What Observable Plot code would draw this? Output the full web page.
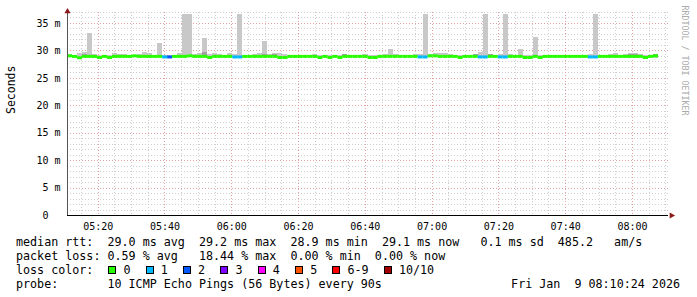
<!DOCTYPE html>
<html>
<head>
<meta charset="utf-8">
<script src="https://cdn.jsdelivr.net/npm/d3@7"></script>
<script src="https://cdn.jsdelivr.net/npm/@observablehq/plot@0.6"></script>
<style>
  html, body { margin: 0; padding: 0; background: #ffffff; }
  #wrap { position: relative; width: 697px; height: 297px; overflow: hidden; background: #fff; }
  #legend { position: absolute; left: 0; top: 233px; width: 697px;
    font-family: "DejaVu Sans Mono", monospace; font-size: 11.7px; line-height: 14px;
    color: #000; white-space: pre; padding-top: 1.5px; }
  .ln { padding-left: 16px; height: 14px; }
  .row { display: flex; align-items: center; }
  .box { display: inline-block; width: 6px; height: 6px; border: 1px solid #000; margin-right: 7px; }
  .item { display: inline-flex; align-items: center; margin-right: 15.3px; }
</style>
</head>
<body>
<div id="wrap">
  <div id="chart"></div>
  <div id="legend"></div>
</div>
<script>
// ---- data ----
const median = [
  29.1,29.0,28.75,29.0,29.0,29.0,28.8,29.0,28.8,29.0,
  29.0,29.0,29.0,29.1,29.0,29.0,29.0,29.0,29.0,28.9,
  28.9,29.0,29.0,29.0,29.1,29.0,29.0,29.0,28.8,29.0,
  29.0,29.0,29.0,28.9,28.9,29.0,29.0,29.0,29.0,29.0,
  29.0,29.0,28.8,28.8,29.0,29.0,29.0,29.0,29.0,29.0,
  28.8,29.0,28.8,29.0,28.8,29.0,29.0,29.0,29.0,29.0,
  28.8,28.8,29.0,29.0,29.0,29.0,29.0,29.0,29.0,29.0,
  28.9,28.9,29.1,29.1,29.0,29.0,29.0,29.0,28.8,29.0,
  29.0,29.0,28.9,28.9,29.0,29.0,28.9,28.9,29.0,29.0,
  29.0,28.8,28.8,29.0,28.8,29.0,29.0,29.0,29.0,29.0,
  29.0,29.0,29.0,29.0,28.9,28.9,29.0,29.0,29.0,29.0,
  29.0,29.0,29.0,29.0,29.0,28.8,29.0,29.1
];
const loss = [
  0,0,0,0,0,0,0,0,0,0, 0,0,0,0,0,0,0,0,0,1,
  2,0,0,0,0,0,0,0,0,0, 0,0,0,1,1,0,0,0,0,0,
  0,0,0,0,0,0,0,0,0,0, 0,0,0,0,0,0,0,0,0,0,
  0,0,0,0,0,0,0,0,0,0, 1,1,0,0,0,0,0,0,0,0,
  0,0,1,1,0,0,1,1,0,0, 0,0,0,0,0,0,0,0,0,0,
  0,0,0,0,1,1,0,0,0,0, 0,0,0,0,0,0,0,0
];
const hi = [
  29.3,29.2,29.6,29.8,33.2,29.3,29.2,29.2,29.2,29.5,
  29.3,29.3,29.2,29.2,29.3,29.8,29.5,29.2,31.3,29.2,
  29.2,29.2,29.6,36.6,36.6,29.3,29.5,32.2,29.3,29.6,
  29.3,29.2,29.5,29.4,36.6,29.2,29.2,29.4,29.6,31.8,
  29.3,29.5,29.5,29.4,29.2,29.2,29.2,29.2,29.2,29.3,
  29.2,29.2,29.2,29.2,29.2,29.4,29.2,29.2,29.2,29.3,
  29.2,29.2,29.2,29.3,30.2,29.3,29.2,29.2,29.2,29.3,
  29.3,36.6,29.4,29.6,29.6,29.5,29.3,29.2,29.2,29.2,
  29.2,29.4,29.8,36.6,29.4,29.2,29.3,36.6,29.3,29.2,
  30.3,29.2,29.2,32.4,29.2,29.2,29.2,29.2,29.2,29.2,
  29.2,29.2,29.2,29.2,29.3,36.6,29.2,29.2,29.3,29.5,
  29.2,29.3,29.5,29.5,29.3,29.2,29.2,29.4
];
const lo = [
  28.9,28.85,28.6,28.85,28.85,28.7,28.65,28.85,28.65,28.6,
  28.85,28.85,28.85,28.95,28.85,28.85,28.6,28.85,28.85,28.75,
  28.75,28.85,28.85,28.85,28.95,28.85,28.85,28.85,28.65,28.85,
  28.85,28.85,28.85,28.75,28.75,28.85,28.85,28.85,28.85,28.85,
  28.85,28.85,28.65,28.65,28.6,28.6,28.6,28.85,28.85,28.85,
  28.65,28.85,28.65,28.85,28.65,28.85,28.85,28.85,28.85,28.85,
  28.65,28.65,28.85,28.85,28.85,28.85,28.85,28.85,28.85,28.85,
  28.75,28.75,28.95,28.95,28.85,28.85,28.85,28.85,28.65,28.85,
  28.85,28.85,28.75,28.75,28.85,28.85,28.75,28.75,28.85,28.85,
  28.85,28.65,28.65,28.85,28.65,28.85,28.85,28.85,28.85,28.85,
  28.85,28.85,28.85,28.85,28.75,28.75,28.85,28.85,28.85,28.85,
  28.85,28.85,28.6,28.6,28.85,28.65,28.85,28.6
];
// inner (darker) smoke band top, null when not visible
const dark = [
  null,null,null,29.3,null,null,null,null,null,null,
  null,null,null,null,null,null,null,null,null,null,
  null,null,null,null,null,null,null,29.8,null,null,
  null,null,null,null,null,null,null,null,null,29.4,
  null,29.3,null,null,null,null,null,null,null,null,
  null,null,null,null,null,29.4,null,null,null,null,
  null,null,null,null,null,null,null,null,null,null,
  null,null,null,null,null,null,null,null,null,null,
  null,29.4,null,null,29.3,null,null,null,null,null,
  null,null,null,null,null,null,null,null,null,null,
  null,null,null,null,null,null,null,null,null,null,
  null,null,29.4,29.4,null,null,null,29.3
];
const lossLevels = ["0","1","2","3","4","5","6-9","10/10"];
const lossColors = ["#26ff00","#00b8ff","#0059ff","#7e00ff","#ff00ff","#ff5500","#ff0000","#a10000"];
const yTicks = [0,5,10,15,20,25,30,35];
const xTickLabels = ["05:20","05:40","06:00","06:20","06:40","07:00","07:20","07:40","08:00"];

const legendLines = [
  "median rtt:  29.0 ms avg  29.2 ms max  28.9 ms min  29.1 ms now   0.1 ms sd  485.2   am/s",
  "packet loss: 0.59 % avg   18.44 % max  0.00 % min  0.00 % now"
];
const probeText = "probe:       10 ICMP Echo Pings (56 Bytes) every 90s";
const dateText = "Fri Jan  9 08:10:24 2026";

// ---- build ----
const startMs = Date.UTC(2026, 0, 9, 5, 10, 48);
const endMs = Date.UTC(2026, 0, 9, 8, 10, 48);
const stepMs = 90 * 1000;
const start = new Date(startMs), end = new Date(endMs);

const rows = median.map((m, i) => ({
  t0: new Date(startMs + i * stepMs),
  t1: new Date(startMs + (i + 1) * stepMs),
  median: m, loss: loss[i], lo: lo[i], hi: hi[i], dark: dark[i]
}));
function lossColor(n) {
  if (n <= 5) return lossColors[n];
  if (n < 10) return lossColors[6];
  return lossColors[7];
}
const xTicks = xTickLabels.map(s => new Date(Date.UTC(2026, 0, 9, +s.slice(0, 2), +s.slice(3))));
const minorY = d3.range(1, 38).filter(v => v % 5 !== 0);
const majorY = yTicks.filter(v => v > 0);
const minorX = d3.utcMinute.every(5).range(start, end).filter(d => d.getUTCMinutes() % 20 !== 0);

const chart = Plot.plot({
  width: 697, height: 233,
  marginLeft: 67, marginRight: 29, marginTop: 12, marginBottom: 18,
  x: { type: "utc", domain: [start, end] },
  y: { domain: [0, 37] },
  style: { fontFamily: "'DejaVu Sans Mono', monospace", fontSize: "10px", background: "#fff", color: "#000", overflow: "visible" },
  marks: [
    Plot.ruleY(minorY, { stroke: "#cfcfcf", strokeDasharray: "1,2", shapeRendering: "crispEdges" }),
    Plot.ruleX(minorX, { stroke: "#cfcfcf", strokeDasharray: "1,2", shapeRendering: "crispEdges" }),
    Plot.ruleY(majorY, { stroke: "#e2a0a0", strokeDasharray: "1,2", shapeRendering: "crispEdges" }),
    Plot.ruleX(xTicks, { stroke: "#e2a0a0", strokeDasharray: "1,2", shapeRendering: "crispEdges" }),
    Plot.rect(rows, { x1: "t0", x2: "t1", y1: "lo", y2: "hi", fill: "#c8c8c8", shapeRendering: "crispEdges" }),
    Plot.rect(rows.filter(d => d.dark != null), { x1: "t0", x2: "t1", y1: "median", y2: "dark", fill: "#a0a0a0", shapeRendering: "crispEdges" }),
    Plot.ruleY(rows, { y: "median", x1: "t0", x2: "t1", stroke: d => lossColor(d.loss), strokeWidth: 3 }),
    Plot.ruleX([start], { stroke: "#555", shapeRendering: "crispEdges" }),
    Plot.ruleY([0], { stroke: "#000", shapeRendering: "crispEdges" }),
    Plot.dot([{ x: start, y: 37 }], { x: "x", y: "y", symbol: "triangle", r: 2.3, fill: "#8b1a1a", stroke: null, dy: -1 }),
    Plot.dot([{ x: end, y: 0 }], { x: "x", y: "y", symbol: "triangle", r: 2.3, fill: "#8b1a1a", stroke: null, rotate: 90, dx: 3 }),
    Plot.axisY(yTicks, { tickSize: 0, tickPadding: 7, label: null, fontSize: 10,
      tickFormat: d => d === 0 ? "0\u00a0\u00a0" : d + "\u00a0m" }),
    Plot.axisX(xTicks, { tickSize: 0, tickPadding: 7, label: null, fontSize: 10,
      tickFormat: d3.utcFormat("%H:%M") }),
    Plot.text(["Seconds"], { frameAnchor: "left", dx: -56, rotate: -90, fontSize: 11.5, text: d => d, fill: "#000" }),
    Plot.text(["RRDTOOL / TOBI OETIKER"], { frameAnchor: "top-right", dx: 19, dy: -7, rotate: 90, textAnchor: "start", fontSize: 8.3, text: d => d, fill: "#aaaaaa" })
  ]
});
document.getElementById("chart").appendChild(chart);

// ---- legend ----
const lg = document.getElementById("legend");
legendLines.forEach(t => {
  const d = document.createElement("div"); d.className = "ln"; d.textContent = t; lg.appendChild(d);
});
const row3 = document.createElement("div"); row3.className = "ln row";
const lab = document.createElement("span"); lab.textContent = "loss color:"; lab.style.marginRight = "15px";
row3.appendChild(lab);
lossLevels.forEach((lvl, i) => {
  const it = document.createElement("span"); it.className = "item";
  const b = document.createElement("span"); b.className = "box"; b.style.background = lossColors[i];
  const t = document.createElement("span"); t.textContent = lvl;
  it.appendChild(b); it.appendChild(t); row3.appendChild(it);
});
lg.appendChild(row3);
const row4 = document.createElement("div"); row4.className = "ln row";
row4.style.justifyContent = "space-between"; row4.style.paddingRight = "17px";
const p1 = document.createElement("span"); p1.textContent = probeText;
const p2 = document.createElement("span"); p2.textContent = dateText;
row4.appendChild(p1); row4.appendChild(p2);
lg.appendChild(row4);
</script>
</body>
</html>
